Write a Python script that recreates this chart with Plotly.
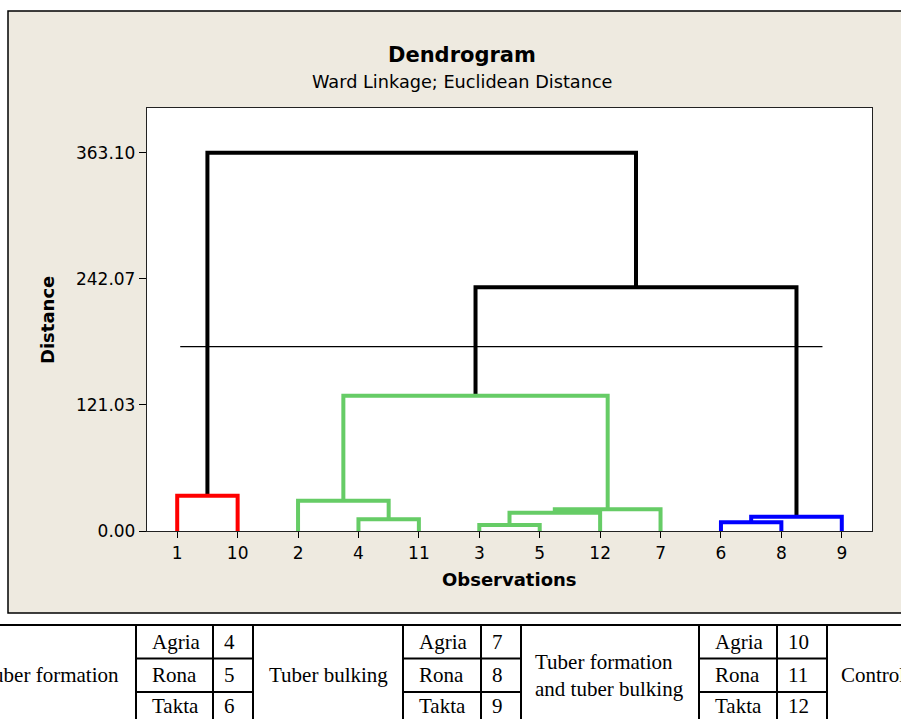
import plotly.graph_objects as go

# ---------------- dendrogram data (Ward linkage, Euclidean distance) ----------------
leaf_order = [1, 10, 2, 4, 11, 3, 5, 12, 7, 6, 8, 9]

# Merge steps: clusters 1..12 are observations, each merge creates cluster 13, 14, ...
merge_a = [3, 6, 4, 14, 13, 17, 2, 1, 19, 21, 20]
merge_b = [5, 8, 11, 9, 12, 7, 15, 10, 18, 16, 22]
merge_dist = [5.8, 8.4, 11.2, 13.7, 17.6, 20.8, 29.1, 33.9, 129.9, 233.9, 363.10]
merge_group = ["green", "blue", "green", "blue", "green", "green", "green",
               "red", "green", "black", "black"]

cut_distance = 176.9
cut_from, cut_to = 1.05, 11.68

max_distance = 363.10
y_ticks = [max_distance * i / 3 for i in range(4)]
y_tick_text = [f"{v:.2f}" for v in y_ticks]

# ---------------- treatment key table ----------------
stages = ["Tuber formation", "Tuber bulking", "Tuber formation<br>and tuber bulking", "Control"]
varieties = ["Agria", "Rona", "Takta"]
treatment_numbers = [[4, 5, 6], [7, 8, 9], [10, 11, 12]]

# ---------------- geometry helpers ----------------
W, H = 901, 719
PL, PR, PT, PB = 147, 872, 108, 531          # plot area in pixels


def px(x):
    return (x - PL) / (PR - PL)


def py(y):
    return (PB - y) / (PB - PT)


palette = {"red": "#FF0000", "green": "#66CC66", "blue": "#0000FF", "black": "#000000"}

# leaf positions and heights, then merge centres
pos = {obs: i + 1 for i, obs in enumerate(leaf_order)}
height = {obs: 0.0 for obs in leaf_order}
paths = {k: ([], []) for k in palette}
for k, (a, b, d, g) in enumerate(zip(merge_a, merge_b, merge_dist, merge_group)):
    cid = 13 + k
    pos[cid] = (pos[a] + pos[b]) / 2
    height[cid] = d
    xs, ys = paths[g]
    xs += [pos[a], pos[a], pos[b], pos[b], None]
    ys += [height[a], d, d, height[b], None]

fig = go.Figure()

for g in ["black", "red", "green", "blue"]:
    xs, ys = paths[g]
    fig.add_trace(go.Scatter(
        x=xs, y=ys, mode="lines",
        line=dict(color=palette[g], width=4),
        hoverinfo="skip", showlegend=False,
    ))

fig.add_trace(go.Scatter(
    x=[cut_from, cut_to], y=[cut_distance, cut_distance], mode="lines",
    line=dict(color="#000000", width=1.3),
    hoverinfo="skip", showlegend=False,
))

SANS = "DejaVu Sans"
SERIF = "Liberation Serif"
annotations = []


def text(t, x, y, size, family=SANS, bold=False, xanchor="center", align="center", angle=0):
    annotations.append(dict(
        text=f"<b>{t}</b>" if bold else t,
        x=px(x), y=py(y), xref="paper", yref="paper",
        xanchor=xanchor, yanchor="middle", align=align,
        showarrow=False, textangle=angle,
        font=dict(family=family, size=size, color="#000000"),
    ))


text("Dendrogram", 462, 55, 21, bold=True)
text("Ward Linkage; Euclidean Distance", 462, 82, 17.7)
text("Observations", 509, 579, 18, bold=True)
text("Distance", 47, 320, 18, bold=True, angle=-90)

shapes = [
    dict(type="rect", xref="paper", yref="paper",
         x0=px(8), x1=px(930), y0=py(613), y1=py(11),
         fillcolor="#EEEAE0", line=dict(color="#000000", width=1.5), layer="below"),
    dict(type="rect", xref="paper", yref="paper", x0=0, x1=1, y0=0, y1=1,
         fillcolor="#FFFFFF", line=dict(width=0), layer="below"),
]


def hline(y, x0, x1):
    shapes.append(dict(type="line", xref="paper", yref="paper",
                       x0=px(x0), x1=px(x1), y0=py(y), y1=py(y),
                       line=dict(color="#000000", width=2)))


def vline(x, y0, y1):
    shapes.append(dict(type="line", xref="paper", yref="paper",
                       x0=px(x), x1=px(x), y0=py(y0), y1=py(y1),
                       line=dict(color="#000000", width=2)))


# table grid
row_top, row_h = 625, 33.5
hline(row_top, -20, 930)
group_cols = [(136, 213, 253), (403, 481, 521), (699, 777, 827)]
for (c0, c1, c2) in group_cols:
    for x in (c0, c1, c2):
        vline(x, row_top, 740)
    for r in (1, 2):
        hline(row_top + r * row_h, c0, c2)

# table text (last row sits a little high so it stays on the page)
row_mid = [row_top + 0.5 * row_h, row_top + 1.5 * row_h, 705.5]
for (c0, c1, c2), nums in zip(group_cols, treatment_numbers):
    for r, (v, n) in enumerate(zip(varieties, nums)):
        text(v, c0 + 14, row_mid[r], 21, family=SERIF, xanchor="left")
        text(str(n), c1 + 9, row_mid[r], 21, family=SERIF, xanchor="left")

text(stages[0], 121, row_mid[1], 21, family=SERIF, xanchor="right")
text(stages[1], 328, row_mid[1], 21, family=SERIF)
text(stages[2], 533, row_mid[1], 21, family=SERIF, xanchor="left", align="left")
text(stages[3], 839, row_mid[1], 21, family=SERIF, xanchor="left")

fig.update_layout(
    width=W, height=H, autosize=False,
    margin=dict(l=PL, r=W - PR, t=PT, b=H - PB, pad=0),
    paper_bgcolor="#FFFFFF", plot_bgcolor="#FFFFFF",
    shapes=shapes, annotations=annotations,
    font=dict(family=SANS, size=17, color="#000000"),
)

fig.update_xaxes(
    range=[0.5, 12.5], tickvals=list(range(1, 13)), ticktext=[str(o) for o in leaf_order],
    showgrid=False, zeroline=False, showline=True, mirror=True,
    linecolor="#222222", linewidth=1.3,
    ticks="outside", ticklen=6, tickwidth=1, tickcolor="#000000",
    tickfont=dict(family=SANS, size=17, color="#000000"),
)
fig.update_yaxes(
    range=[0, 406], tickvals=y_ticks, ticktext=y_tick_text,
    showgrid=False, zeroline=False, showline=True, mirror=True,
    linecolor="#222222", linewidth=1.3,
    ticks="outside", ticklen=7, tickwidth=1, tickcolor="#000000",
    tickfont=dict(family=SANS, size=17, color="#000000"),
)

fig.write_html("out.html")
